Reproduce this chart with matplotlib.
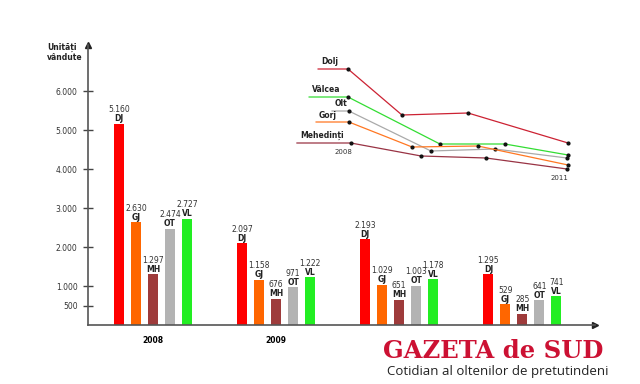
import numpy as np
import matplotlib
matplotlib.use('Agg')
import matplotlib.pyplot as plt

## main bar data
years = ['2008', '2009', '', '']
codes = ['DJ', 'GJ', 'MH', 'OT', 'VL']
colors = ['#ff0000', '#ff6600', '#9e3b3b', '#b3b3b3', '#22ee22']
dj = [5160, 2097, 2193, 1295]
gj = [2630, 1158, 1029, 529]
mh = [1297, 676, 651, 285]
ot = [2474, 971, 1003, 641]
vl = [2727, 1222, 1178, 741]
yticks = [500, 1000, 2000, 3000, 4000, 5000, 6000]
ylabels = ['500', '1.000', '2.000', '3.000', '4.000', '5.000', '6.000']

## inset (schematic trend) readings, index units 0..100
inset_names = ['Dolj', 'Vâlcea', 'Olt', 'Gorj', 'Mehedinți']
inset_colors = ['#cc2233', '#33dd33', '#aaaaaa', '#ff7722', '#993344']
inset_x = [[20, 38.6, 61.4, 95.9],
           [20, 51.7, 74.1, 95.9],
           [20.3, 48.6, 70.7, 95.5],
           [20.3, 42.1, 64.8, 95.9],
           [21, 45.2, 67.6, 95.5]]
inset_y = [[92.8, 56, 57.6, 33.6],
           [70.4, 32.8, 32.8, 24],
           [59.2, 27.2, 28.8, 21.6],
           [50.4, 30.4, 31.2, 16],
           [33.6, 23.2, 21.6, 12.8]]
inset_start = [9.7, 6.6, 14.5, 9, 2.4]

def fmt(v):
    return f'{v:,}'.replace(',', '.')

fig = plt.figure(figsize=(6.4, 3.84), dpi=100)
ax = fig.add_axes([88/640, 1-325/384, (595-88)/640, 280/384])
ax.set_xlim(-0.528, 3.59)
ax.set_ylim(0, 7180)
for s in ['top', 'right']:
    ax.spines[s].set_visible(False)
for s in ['left', 'bottom']:
    ax.spines[s].set_color('#555555')
    ax.spines[s].set_linewidth(1.2)
ax.plot(1, 0, '>', color='#222222', ms=4, transform=ax.transAxes, clip_on=False)
ax.plot(0, 1, '^', color='#222222', ms=4, transform=ax.transAxes, clip_on=False)

series = [dj, gj, mh, ot, vl]
gx = np.arange(len(years))
for j, vals in enumerate(series):
    xs = gx + (j-2)*0.138
    ax.bar(xs, vals, width=0.081, color=colors[j], zorder=2)
    for x, v in zip(xs, vals):
        ax.text(x, v + 14*7180/280, fmt(v), ha='center', va='center', fontsize=5.5, color='#333333')
        ax.text(x, v + 5*7180/280, codes[j], ha='center', va='center', fontsize=5.5,
                fontweight='bold', color='#222222')

ax.set_yticks(yticks)
ax.set_yticklabels(ylabels, fontsize=5.5, color='#333333')
ax.tick_params(axis='y', direction='inout', length=7, width=1, color='#444444', pad=4)
ax.set_xticks(gx)
ax.set_xticklabels(years, fontsize=5.5, fontweight='bold')
ax.tick_params(axis='x', length=0, pad=8)

fig.text(47/640, 1-47/384, 'Unități', fontsize=5.5, fontweight='bold', va='center', color='#222222')
fig.text(47/640, 1-57/384, 'vândute', fontsize=5.5, fontweight='bold', va='center', color='#222222')

## inset trend chart
ins = fig.add_axes([290/640, 1-185/384, 290/640, 125/384])
ins.set_xlim(0, 100)
ins.set_ylim(0, 100)
ins.axis('off')
for i, name in enumerate(inset_names):
    xs = [inset_start[i]] + inset_x[i]
    ys = [inset_y[i][0]] + inset_y[i]
    ins.plot(xs, ys, color=inset_colors[i], lw=0.9)
    ins.plot(inset_x[i], inset_y[i], 'o', color='#111111', ms=2)
    ins.text(inset_start[i] + 1, inset_y[i][0] + 2, name, fontsize=5.5, fontweight='bold',
             va='bottom', ha='left', color='#222222')
ins.text(18.3, 26.4, '2008', fontsize=5, ha='center', va='center', color='#333333')
ins.text(93, 5.6, '2011', fontsize=5, ha='center', va='center', color='#333333')

## logo
fig.text(383/640, 1-351/384, 'GAZETA de SUD', fontsize=17.5, fontweight='bold',
         family='DejaVu Serif', color='#cc1133', va='center', ha='left')
fig.text(387/640, 1-372/384, 'Cotidian al oltenilor de pretutindeni', fontsize=9.5,
         family='Open Sans', color='#222222', va='center', ha='left')

fig.savefig('out.png', dpi=100)
